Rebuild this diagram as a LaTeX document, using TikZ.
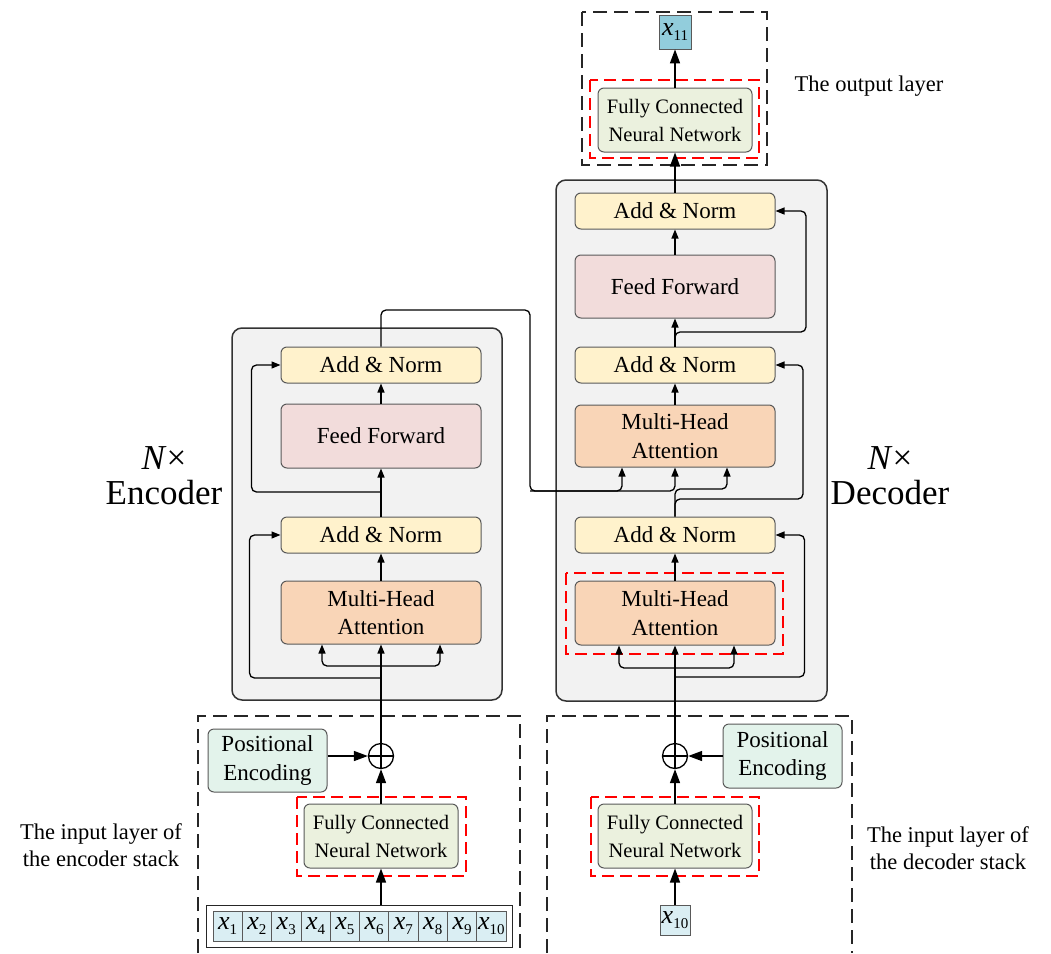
\documentclass[tikz,border=0pt]{standalone}
\usepackage{fontspec}
\setmainfont{Liberation Serif}
\usetikzlibrary{arrows.meta,calc}

\definecolor{blockfill}{HTML}{F2F2F2}
\definecolor{normfill}{HTML}{FFF2CC}
\definecolor{fffill}{HTML}{F2DCDB}
\definecolor{attfill}{HTML}{F9D5B7}
\definecolor{fcfill}{HTML}{EBF1DE}
\definecolor{pefill}{HTML}{E3F3EB}
\definecolor{tokfill}{HTML}{DAEEF3}
\definecolor{outfill}{HTML}{92CDDC}
\definecolor{edge}{HTML}{595959}

% token label: italic x with a lowered index
\newcommand{\xlab}[1]{\textit{x}\raisebox{-5pt}{\fontsize{15}{15}\selectfont #1}}

\begin{document}
\begin{tikzpicture}[x=1pt,y=-1pt,
  block/.style={draw=black!80, line width=1.5pt, fill=blockfill, rounded corners=10pt},
  unit/.style={draw=edge, line width=1pt, rounded corners=6pt, minimum width=200pt,
    align=center, inner sep=0pt, font=\fontsize{23}{28.5}\selectfont},
  norm/.style={unit, fill=normfill, minimum height=36pt},
  ffbox/.style={unit, fill=fffill, minimum height=64pt},
  att/.style={unit, fill=attfill, minimum height=63pt},
  fcnn/.style={unit, fill=fcfill, minimum width=154pt, minimum height=64pt,
    font=\fontsize{20.5}{28}\selectfont},
  pebox/.style={unit, fill=pefill, minimum width=119pt, minimum height=63pt},
  tok/.style={draw=edge, line width=0.8pt, fill=tokfill, minimum width=29.3pt,
    minimum height=30pt, inner sep=0pt, font=\fontsize{26}{26}\selectfont},
  reddash/.style={draw=red, line width=1.2pt, dash pattern=on 12pt off 6pt},
  frame/.style={draw=black!85, line width=1.5pt, dash pattern=on 14pt off 7pt},
  conn/.style={draw=black, line width=1.3pt, -{Triangle[length=9pt,width=7pt]}, rounded corners=5pt},
  bigconn/.style={draw=black, line width=1.5pt, -{Triangle[length=14pt,width=10pt]}},
  plus/.style={circle, draw=black, line width=1.3pt, minimum size=25pt, inner sep=0pt},
  lbl/.style={font=\fontsize{22.5}{27.5}\selectfont, align=center},
  big/.style={font=\fontsize{35}{35}\selectfont, align=center}]

\useasboundingbox (0,0) rectangle (1051,953);

% stack containers
\draw[block] (232,328) rectangle (502,700);
\draw[block] (556,180) rectangle (827,701);

% layer frames
\draw[frame] (582,12) rectangle (767,165);
\draw[frame] (198,953) -- (198,716) -- (520,716) -- (520,953);
\draw[frame] (547,953) -- (547,716) -- (852,716) -- (852,953);

% highlighted modules
\draw[reddash] (590,80) rectangle (759,158);
\draw[reddash] (566,573) rectangle (783,654);
\draw[reddash] (297,797) rectangle (466,876);
\draw[reddash] (591,797) rectangle (759,876);

% encoder stack
\node[norm] (eAN2) at (381,365) {Add \& Norm};
\node[ffbox] (eFF) at (381,436) {Feed Forward};
\node[norm] (eAN1) at (381,535) {Add \& Norm};
\node[att] (eMHA) at (381,612.5) {Multi-Head\\Attention};

% decoder stack
\node[norm] (dAN3) at (675,211) {Add \& Norm};
\node[ffbox, minimum height=63pt] (dFF) at (675,286.5) {Feed Forward};
\node[norm] (dAN2) at (675,365) {Add \& Norm};
\node[att, minimum height=62pt] (dMHA2) at (675,436) {Multi-Head\\Attention};
\node[norm] (dAN1) at (675,535) {Add \& Norm};
\node[att, minimum height=64pt] (dMHA1) at (675,613) {Multi-Head\\Attention};

% output layer
\node[fcnn] (oFC) at (675,120) {Fully Connected\\Neural Network};
\node[tok, fill=outfill, minimum width=32pt, minimum height=34pt] (xout) at (675,32) {\xlab{11}};

% encoder input layer
\node[plus] (eplus) at (381,756) {};
\draw[line width=1.3pt] (eplus.north) -- (eplus.south) (eplus.west) -- (eplus.east);
\node[pebox] (ePE) at (267.5,760.5) {Positional\\Encoding};
\node[fcnn] (eFC) at (381,836) {Fully Connected\\Neural Network};
\node[draw=black!85, line width=1pt, minimum width=306pt, minimum height=42pt, inner sep=0pt] (xrow) at (359,926) {};
\foreach \i in {1,...,10}
  \node[tok] (tok\i) at ({213+29.3*(\i-0.5)},926) {\xlab{\i}};

% decoder input layer
\node[plus] (dplus) at (675,756) {};
\draw[line width=1.3pt] (dplus.north) -- (dplus.south) (dplus.west) -- (dplus.east);
\node[pebox, minimum height=64pt] (dPE) at (782.5,756) {Positional\\Encoding};
\node[fcnn] (dFC) at (675,836) {Fully Connected\\Neural Network};
\node[tok, minimum width=30pt] (xin) at (675,920) {\xlab{10}};

% labels
\node[lbl] (outlbl) at (869,86) {The output layer};
\node[lbl] (enclbl) at (101,845) {The input layer of\\the encoder stack};
\node[lbl] (declbl) at (948,848) {The input layer of\\the decoder stack};
\node[big] (enctitle) at (164,476) {\textit{N}×\\Encoder};
\node[big] (dectitle) at (890,476) {\textit{N}×\\Decoder};

% encoder connectors
\draw[bigconn] (eFC.south |- xrow.north) -- (eFC.south);
\draw[bigconn] (eFC.north) -- (eplus.south);
\draw[bigconn] (ePE.east |- eplus) -- (eplus.west);
\draw[conn] (eplus.north) -- (eMHA.south);
\coordinate (eb1) at (381,666);
\coordinate (eb2) at (381,678);
\coordinate (eb3) at (381,492);
\draw[conn] (eb1) -| ([xshift=-59pt]eMHA.south);
\draw[conn] (eb1) -| ([xshift=59pt]eMHA.south);
\draw[conn] (eb2) -| ([xshift=-31pt]eAN1.west) -- (eAN1.west);
\draw[conn] (eMHA.north) -- (eAN1.south);
\draw[conn] (eAN1.north) -- (eFF.south);
\draw[conn] (eb3) -| ([xshift=-29pt]eAN2.west) -- (eAN2.west);
\draw[conn] (eFF.north) -- (eAN2.south);

% encoder output into the decoder attention
\coordinate (eo1) at (530,310);
\coordinate (eo2) at (530,491);
\draw[conn] (eAN2.north) |- (eo1) -- (eo2) -| (dMHA2.south);
\draw[conn] (eo2) -| ([xshift=-53pt]dMHA2.south);

% decoder connectors
\draw[bigconn] (xin.north) -- (dFC.south);
\draw[bigconn] (dFC.north) -- (dplus.south);
\draw[bigconn] (dPE.west) -- (dplus.east);
\draw[conn] (dplus.north) -- (dMHA1.south);
\coordinate (db1) at (675,668);
\coordinate (db2) at (675,677);
\draw[conn] (db1) -| ([xshift=-56pt]dMHA1.south);
\draw[conn] (db1) -| ([xshift=59pt]dMHA1.south);
\draw[conn] (db2) -| ([xshift=29pt]dAN1.east) -- (dAN1.east);
\draw[conn] (dMHA1.north) -- (dAN1.south);
\coordinate (dq) at (727,489);
\coordinate (dr2) at (803,499);
\draw[conn] (dAN1.north) |- (dq) -- ([xshift=52pt]dMHA2.south);
\draw[conn] (dAN1.north) |- (dr2) |- (dAN2.east);
\draw[conn] (dMHA2.north) -- (dAN2.south);
\coordinate (dr3) at (806,332);
\draw[conn] (dAN2.north) -- (dFF.south);
\draw[conn] (dAN2.north) |- (dr3) |- (dAN3.east);
\draw[conn] (dFF.north) -- (dAN3.south);
\draw[bigconn] (dAN3.north) -- (oFC.south);
\draw[bigconn] (oFC.north) -- (xout.south);
\end{tikzpicture}
\end{document}
